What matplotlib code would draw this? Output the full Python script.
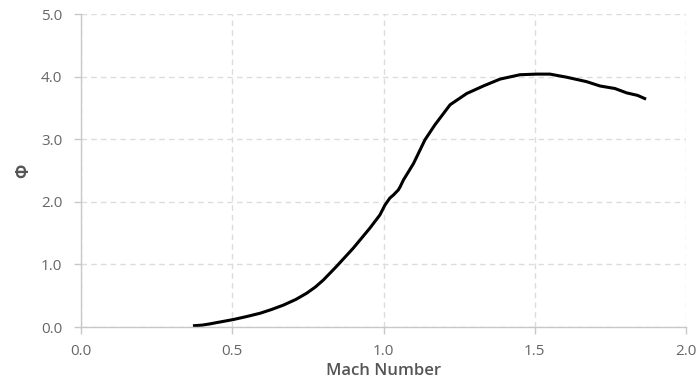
import numpy as np
import matplotlib.pyplot as plt

plt.rcParams['font.family'] = ['Open Sans', 'DejaVu Sans']

# Phi vs Mach number
mach = [0.370, 0.400, 0.426, 0.448, 0.504, 0.550, 0.592, 0.630, 0.669, 0.710, 0.746,
        0.775, 0.801, 0.845, 0.900, 0.955, 0.988, 1.005, 1.021, 1.033, 1.049, 1.055,
        1.066, 1.099, 1.137, 1.170, 1.220, 1.275, 1.330, 1.385, 1.451, 1.506, 1.550,
        1.606, 1.671, 1.716, 1.765, 1.804, 1.840, 1.868]
phi = [0.02, 0.03, 0.05, 0.07, 0.12, 0.17, 0.22, 0.28, 0.35, 0.44, 0.54,
       0.64, 0.75, 0.97, 1.26, 1.58, 1.79, 1.95, 2.06, 2.11, 2.19, 2.24,
       2.35, 2.61, 2.99, 3.23, 3.55, 3.73, 3.85, 3.96, 4.03, 4.04, 4.04,
       3.99, 3.92, 3.85, 3.81, 3.74, 3.70, 3.64]

xticks = [0.0, 0.5, 1.0, 1.5, 2.0]
yticks = [0.0, 1.0, 2.0, 3.0, 4.0, 5.0]

fig = plt.figure(figsize=(6.99, 3.85), dpi=100)
ax = fig.add_axes([0.1159, 0.1506, 0.8655, 0.813])

ax.plot(mach, phi, color='black', lw=2.2, solid_capstyle='butt')

ax.set_xlim(0, 2.0)
ax.set_ylim(0, 5.0)
ax.set_xticks(xticks)
ax.set_yticks(yticks)
ax.set_xticklabels(['%.1f' % v for v in xticks])
ax.set_yticklabels(['%.1f' % v for v in yticks])

ax.grid(True, color='#dcdcdc', linestyle=(0, (4, 3)), lw=1.0)
ax.set_axisbelow(True)

for s in ['top', 'right']:
    ax.spines[s].set_visible(False)
for s in ['left', 'bottom']:
    ax.spines[s].set_color('#c8c8c8')
    ax.spines[s].set_linewidth(1.0)

ax.tick_params(axis='both', colors='#c8c8c8', length=5, width=1.0,
               labelcolor='#666666', labelsize=11)
ax.tick_params(axis='x', pad=7)
ax.tick_params(axis='y', pad=8.5)

ax.set_xlabel('Mach Number', fontsize=12, color='#555555', fontweight='semibold', labelpad=3)
ax.set_ylabel('Φ', fontsize=12, color='#555555', fontweight='bold', labelpad=6)

fig.savefig('out.png', dpi=100)
